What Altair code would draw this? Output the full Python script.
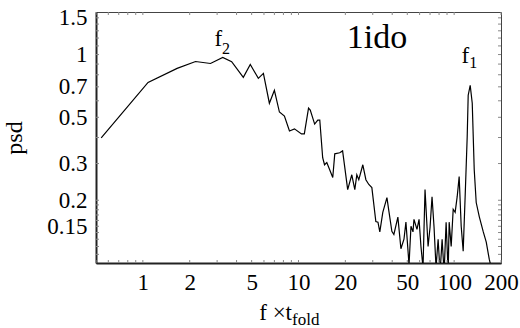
import altair as alt
import pandas as pd

# ---- data ----
freq = [
    0.54, 1.08, 1.66, 2.18, 2.72, 3.26, 3.72, 4.42, 4.90, 5.52,
    5.95, 6.50, 7.00, 7.54, 8.12, 8.75, 9.42, 10.45, 10.9, 11.6,
    11.9, 12.7, 13.3, 13.7, 14.3, 14.7, 15.2, 16.6, 17.1, 18.4,
    19.2, 19.8, 20.7, 22.0, 23.0, 23.7, 24.4, 25.9, 27.1, 28.3,
    29.6, 31.4, 32.4, 33.3, 34.8, 37.0, 38.1, 39.8, 41.0, 43.5,
    45.5, 47.6, 49.0, 51.3, 52.8, 54.4, 55.2, 57.7, 59.5, 61.2,
    63.1, 65.0, 68.0, 70.0, 72.1, 74.3, 76.5, 78.9, 81.2, 83.7,
    86.2, 88.8, 91.5, 92.9, 95.7, 98.6, 101.5, 104.6, 106.2, 107.7,
    111.0, 114.3, 117.8, 121.3, 123.1, 126.8, 130.7, 134.6, 138.6, 145.0,
    153.9, 160.8, 168.2, 173.3,
]
psd = [
    0.398, 0.735, 0.858, 0.926, 0.906, 0.968, 0.925, 0.777, 0.896, 0.769,
    0.812, 0.584, 0.674, 0.530, 0.507, 0.430, 0.440, 0.416, 0.416, 0.553,
    0.541, 0.464, 0.485, 0.485, 0.320, 0.296, 0.303, 0.257, 0.334, 0.338,
    0.345, 0.290, 0.225, 0.265, 0.225, 0.265, 0.251, 0.296, 0.251, 0.238,
    0.230, 0.158, 0.157, 0.141, 0.175, 0.206, 0.177, 0.142, 0.137, 0.166,
    0.117, 0.130, 0.157, 0.098, 0.150, 0.141, 0.162, 0.145, 0.162, 0.120,
    0.095, 0.225, 0.120, 0.148, 0.208, 0.148, 0.095, 0.130, 0.090, 0.130,
    0.090, 0.157, 0.090, 0.157, 0.120, 0.181, 0.175, 0.208, 0.233, 0.260,
    0.150, 0.114, 0.213, 0.403, 0.638, 0.712, 0.584, 0.280, 0.195, 0.167,
    0.141, 0.126, 0.104, 0.095,
]
assert len(freq) == len(psd)

x_labels = [1, 2, 5, 10, 20, 50, 100, 200]
y_labels = [0.15, 0.2, 0.3, 0.5, 0.7, 1, 1.5]
x_minor = [0.5, 0.6, 0.7, 0.8, 0.9, 1, 2, 3, 4, 5, 6, 7, 8, 9,
           10, 20, 30, 40, 50, 60, 70, 80, 90, 100, 200]
y_minor = [0.11, 0.12, 0.13, 0.14, 0.15, 0.16, 0.17, 0.18, 0.19, 0.2,
           0.3, 0.4, 0.5, 0.6, 0.7, 0.8, 0.9, 1.0, 1.1, 1.2, 1.3, 1.4, 1.5]

# ---- layout ----
W, H = 405, 251
FONT = "Liberation Serif, 'Times New Roman', Times, 'DejaVu Serif', serif"
xscale = alt.Scale(type="log", domain=[0.5, 200], nice=False)
yscale = alt.Scale(type="log", domain=[0.1, 1.6], nice=False)

xaxis = alt.Axis(values=x_labels, format="~g", title=None, ticks=False,
                 grid=False, labelFont=FONT, labelFontSize=23,
                 labelColor="black", labelPadding=8, labelFlush=False,
                 labelOverlap=False, domainColor="#222", domainWidth=2)
yaxis = alt.Axis(values=y_labels, format="~g", title=None, ticks=False,
                 grid=False, labelFont=FONT, labelFontSize=23,
                 labelColor="black", labelPadding=9, labelFlush=False,
                 labelOverlap=False, domainColor="#222", domainWidth=2)

df = pd.DataFrame({"f": freq, "psd": psd})

line = alt.Chart(df).mark_line(color="black", strokeWidth=1.2, clip=True).encode(
    x=alt.X("f:Q", scale=xscale, axis=xaxis),
    y=alt.Y("psd:Q", scale=yscale, axis=yaxis),
)

xt = pd.DataFrame({"v": x_minor})
yt = pd.DataFrame({"v": y_minor})
tick_style = dict(color="#888", strokeWidth=1)
xb = alt.Chart(xt).mark_rule(**tick_style).encode(
    x=alt.X("v:Q", scale=xscale, axis=xaxis), y=alt.value(H), y2=alt.value(H - 3))
xtop = alt.Chart(xt).mark_rule(**tick_style).encode(
    x=alt.X("v:Q", scale=xscale, axis=xaxis), y=alt.value(0), y2=alt.value(3))
yl = alt.Chart(yt).mark_rule(**tick_style).encode(
    y=alt.Y("v:Q", scale=yscale, axis=yaxis), x=alt.value(0), x2=alt.value(3))
yr = alt.Chart(yt).mark_rule(**tick_style).encode(
    y=alt.Y("v:Q", scale=yscale, axis=yaxis), x=alt.value(W), x2=alt.value(W - 3))

one = pd.DataFrame({"a": [0]})


def txt(text, x, y, size, align, dy=0):
    return alt.Chart(one).mark_text(
        text=text, font=FONT, fontSize=size, align=align, baseline="alphabetic",
        dy=dy, color="black"
    ).encode(x=alt.datum(x, scale=xscale), y=alt.datum(y, scale=yscale))


f2a = txt("f", 3.23, 1.10, 23, "right")
f2b = txt("2", 3.23, 1.10, 16, "left", dy=8)
f1a = txt("f", 125, 0.906, 23, "right")
f1b = txt("1", 125, 0.906, 16, "left", dy=5)
name = txt("1ido", 20.4, 1.07, 34, "left")

xtitle_a = alt.Chart(one).mark_text(
    text="f ×t", font=FONT, fontSize=23, align="right", baseline="alphabetic", color="black"
).encode(x=alt.value(196), y=alt.value(308))
xtitle_b = alt.Chart(one).mark_text(
    text="fold", font=FONT, fontSize=17, align="left", baseline="alphabetic", color="black"
).encode(x=alt.value(196), y=alt.value(313))
ytitle = alt.Chart(one).mark_text(
    text="psd", font=FONT, fontSize=24, align="center", baseline="alphabetic",
    angle=270, color="black"
).encode(x=alt.value(-74), y=alt.value(126))

chart = alt.layer(
    line, xb, xtop, yl, yr, f2a, f2b, f1a, f1b, name, xtitle_a, xtitle_b, ytitle
).properties(
    width=W, height=H,
    autosize=alt.AutoSizeParams(type="none"),
    padding={"left": 96, "top": 12, "right": 19, "bottom": 65},
    background="white",
).configure_view(stroke="#444", strokeWidth=1)

chart.save("out.html", embed_options={"renderer": "svg", "actions": False})
